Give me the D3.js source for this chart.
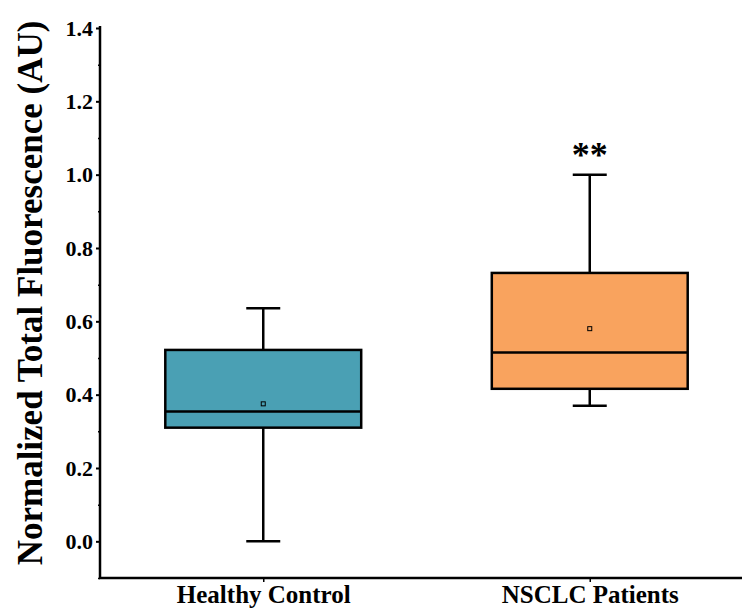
<!DOCTYPE html>
<html>
<head>
<meta charset="utf-8">
<script src="https://cdn.jsdelivr.net/npm/d3@7"></script>
<style>
  body { margin: 0; background: #fff; }
  text { font-family: "Liberation Serif", "Times New Roman", serif; font-weight: bold; fill: #000; }
</style>
</head>
<body>
<svg id="boxChart" width="742" height="608"></svg>
<script>
// data
const categories = ["Healthy Control", "NSCLC Patients"];
const whiskerLow = [0.0, 0.37];
const q1 = [0.31, 0.416];
const median = [0.354, 0.515];
const q3 = [0.522, 0.732];
const whiskerHigh = [0.636, 1.0];
const means = [0.375, 0.58];
const signif = ["", "**"];
const boxColors = ["#4aa0b4", "#f9a35e"];
const yTicks = [0, 0.2, 0.4, 0.6, 0.8, 1.0, 1.2, 1.4];
const yMinor = [-0.1, 0.1, 0.3, 0.5, 0.7, 0.9, 1.1, 1.3];

const svg = d3.select("#boxChart"),
    margin = {top: 28, left: 100, bottom: 30},
    height = 608 - margin.top - margin.bottom;

const boxes = categories.map((c, i) => ({
  cat: c, lo: whiskerLow[i], q1: q1[i], med: median[i], q3: q3[i],
  hi: whiskerHigh[i], mean: means[i], sig: signif[i], color: boxColors[i]
}));

const x = d3.scalePoint()
    .domain(categories)
    .range([margin.left, 753])
    .padding(0.5);

const y = d3.scaleLinear()
    .domain([-0.1, 1.4])
    .range([margin.top + height, margin.top]);

const boxW = x.step() * 0.6,
    capW = 34;

// y axis (major + minor ticks)
const yAxis = svg.append("g")
    .attr("transform", "translate(" + margin.left + ",0)")
    .call(d3.axisLeft(y).tickValues(yTicks).tickSize(4).tickSizeOuter(0).tickFormat(d3.format(".1f")));
yAxis.select(".domain").attr("stroke-width", 2.5).attr("d", "M0," + (y(1.4) - 2) + "V" + y(-0.1));
yAxis.selectAll(".tick line").attr("stroke-width", 2);
yAxis.selectAll(".tick text")
    .attr("x", -7)
    .style("font-size", "22px")
    .style("font-family", "'Liberation Serif', serif")
    .style("font-weight", "bold");

svg.append("g")
    .attr("transform", "translate(" + margin.left + ",0)")
    .call(d3.axisLeft(y).tickValues(yMinor).tickSize(2).tickFormat(""))
    .call(g => g.select(".domain").remove())
    .selectAll("line").attr("stroke-width", 1.5);

// x axis
const xAxis = svg.append("g")
    .attr("transform", "translate(0," + y(-0.1) + ")")
    .call(d3.axisBottom(x).tickSize(4).tickSizeOuter(0));
xAxis.select(".domain").attr("stroke-width", 2.5).attr("d", "M" + (margin.left - 1) + ",0H742");
xAxis.selectAll(".tick line").attr("stroke-width", 1.5);
xAxis.selectAll(".tick text")
    .attr("y", 0)
    .attr("dy", "25px")
    .style("font-size", "25px")
    .style("font-family", "'Liberation Serif', serif")
    .style("font-weight", "bold");

// y axis title
svg.append("text")
    .attr("transform", "translate(42," + 293 + ") rotate(-90)")
    .style("text-anchor", "middle")
    .style("font-size", "35px")
    .text("Normalized Total Fluorescence (AU)");

// boxes
const g = svg.append("g");
const bx = g.selectAll(".box").data(boxes).enter().append("g").attr("class", "box");

// whiskers
bx.append("line")
    .attr("x1", d => x(d.cat)).attr("x2", d => x(d.cat))
    .attr("y1", d => y(d.hi)).attr("y2", d => y(d.q3))
    .attr("stroke", "#000").attr("stroke-width", 2.5);
bx.append("line")
    .attr("x1", d => x(d.cat)).attr("x2", d => x(d.cat))
    .attr("y1", d => y(d.q1)).attr("y2", d => y(d.lo))
    .attr("stroke", "#000").attr("stroke-width", 2.5);
bx.selectAll(".cap").data(d => [[d.cat, d.hi], [d.cat, d.lo]]).enter().append("line")
    .attr("class", "cap")
    .attr("x1", d => x(d[0]) - capW / 2).attr("x2", d => x(d[0]) + capW / 2)
    .attr("y1", d => y(d[1])).attr("y2", d => y(d[1]))
    .attr("stroke", "#000").attr("stroke-width", 2.5);

// box body
bx.append("rect")
    .attr("x", d => x(d.cat) - boxW / 2)
    .attr("y", d => y(d.q3))
    .attr("width", boxW)
    .attr("height", d => y(d.q1) - y(d.q3))
    .attr("fill", d => d.color)
    .attr("stroke", "#000").attr("stroke-width", 2.5);

// median
bx.append("line")
    .attr("x1", d => x(d.cat) - boxW / 2).attr("x2", d => x(d.cat) + boxW / 2)
    .attr("y1", d => y(d.med)).attr("y2", d => y(d.med))
    .attr("stroke", "#000").attr("stroke-width", 2.5);

// mean marker
bx.append("rect")
    .attr("x", d => x(d.cat) - 2)
    .attr("y", d => y(d.mean) - 2)
    .attr("width", 4).attr("height", 4)
    .attr("fill", "none")
    .attr("stroke", "#000").attr("stroke-width", 1);

// significance
bx.append("text")
    .attr("x", d => x(d.cat))
    .attr("y", d => y(d.hi) - 8)
    .style("text-anchor", "middle")
    .style("font-size", "36px")
    .text(d => d.sig);
</script>
</body>
</html>
